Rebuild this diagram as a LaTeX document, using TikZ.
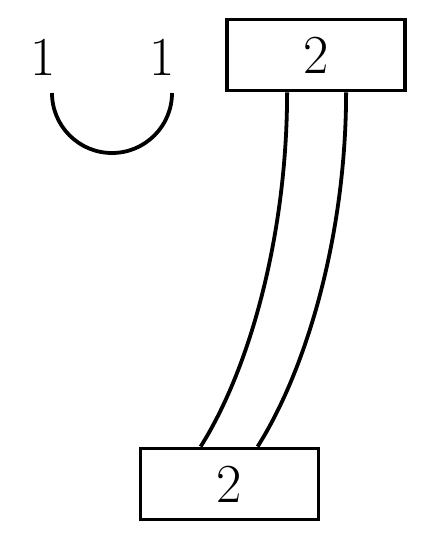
\documentclass[tikz,border=0pt]{standalone}
\begin{document}
\begin{tikzpicture}[x=1pt,y=-1pt,
  ln/.style={line width=3.8pt},
  boxnode/.style={draw,line width=3.8pt,minimum width=178pt,minimum height=71pt,inner sep=0pt,font=\fontsize{55}{60}\selectfont},
  lbl/.style={inner sep=0pt,font=\fontsize{55}{60}\selectfont}]
\useasboundingbox (0,0) rectangle (432,540);
\node[lbl] (l1) at (43,57) {1};
\node[lbl] (l2) at (162,57) {1};
\coordinate (c1) at (52,93);
\draw[ln] (c1) arc[start angle=180,end angle=0,radius=60];
\node[boxnode] (top) at (316,55) {2};
\node[boxnode] (bot) at (229.5,484) {2};
\draw[ln] ([xshift=62pt]top.south west) .. controls +(0,140) and +(50,-79) .. ([xshift=62pt]bot.north west);
\draw[ln] ([xshift=121pt]top.south west) .. controls +(0,140) and +(50,-79) .. ([xshift=119pt]bot.north west);
\end{tikzpicture}
\end{document}
